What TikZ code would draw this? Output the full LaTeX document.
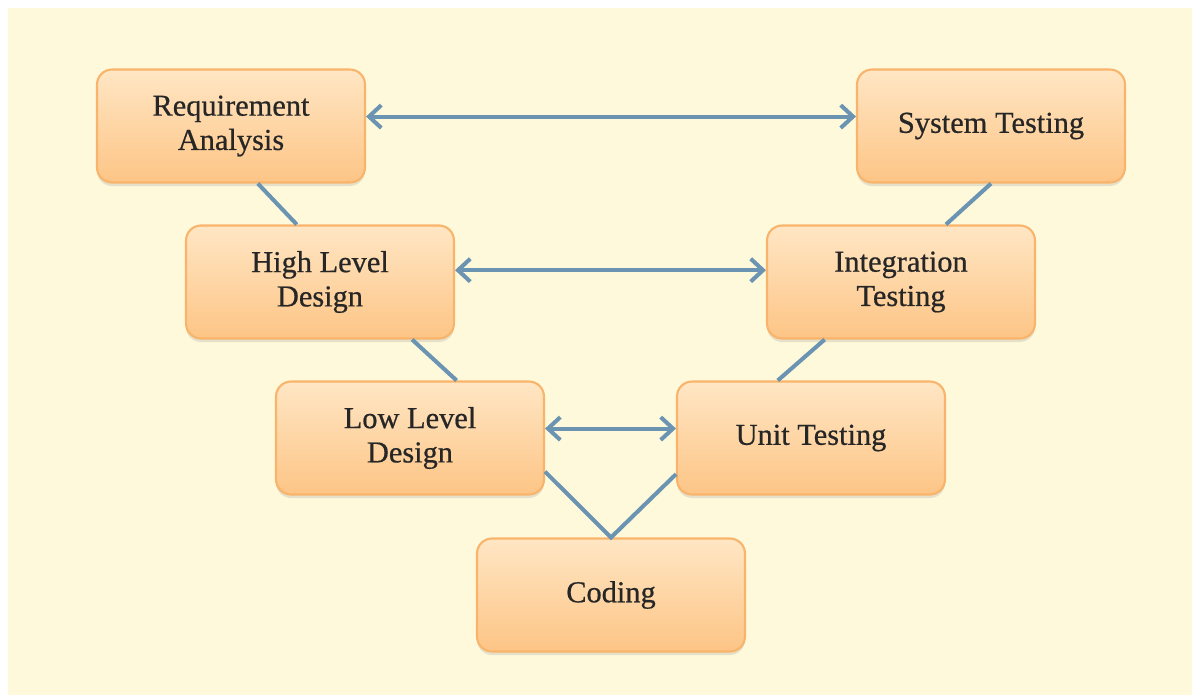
\documentclass[tikz,border=0pt]{standalone}
\usepackage{fontspec}
\setmainfont{Liberation Serif}
\newfontfamily\phasefont{Liberation Serif}[FakeBold=0.6]
\usetikzlibrary{arrows.meta,shadows}
\definecolor{cream}{HTML}{FFF9DC}
\definecolor{boxtop}{HTML}{FFE6C4}
\definecolor{boxbot}{HTML}{FDC586}
\definecolor{boxline}{HTML}{F9B46C}
\definecolor{linkblue}{HTML}{6B94B2}
\begin{document}
\begin{tikzpicture}[x=0.02cm, y=-0.02cm,
    phase/.style={rounded corners=0.3cm, draw=boxline, line width=1.2pt,
        top color=boxtop, bottom color=boxbot,
        minimum width=5.36cm, minimum height=2.26cm, align=center,
        font=\phasefont\fontsize{17.3}{19.5}\selectfont, text=black!85,
        drop shadow={opacity=0.2, shadow xshift=0pt, shadow yshift=-2pt}},
    link/.style={draw=linkblue, line width=2.3pt},
    both/.style={link, {Straight Barb[length=7pt,width=13pt]}-{Straight Barb[length=7pt,width=13pt]}}]
    \useasboundingbox (0,0) rectangle (1194,697);
    \fill[cream] (8,8) rectangle (1192,695);

    \node[phase] (req) at (231,126) {Requirement\\Analysis};
    \node[phase] (sys) at (991,126) {System Testing};
    \node[phase] (hld) at (320,282) {High Level\\Design};
    \node[phase] (int) at (901,282) {Integration\\Testing};
    \node[phase] (lld) at (410,438) {Low Level\\Design};
    \node[phase] (unit) at (811,438) {Unit Testing};
    \node[phase] (code) at (611,595) {Coding};

    % left side of the V
    \draw[link] (req.-65) -- (hld.112);
    \draw[link] (hld.-32) -- (lld.51);
    \draw[link] (lld.-14) -- (code.north) -- (unit.195);
    % right side of the V
    \draw[link] (sys.south) -- (int.52);
    \draw[link] (int.-143) -- (unit.120);

    \draw[both] (req.4) -- (sys.176);
    \draw[both] (hld.5) -- (int.175);
    \draw[both] (lld.4) -- (unit.176);
\end{tikzpicture}
\end{document}
